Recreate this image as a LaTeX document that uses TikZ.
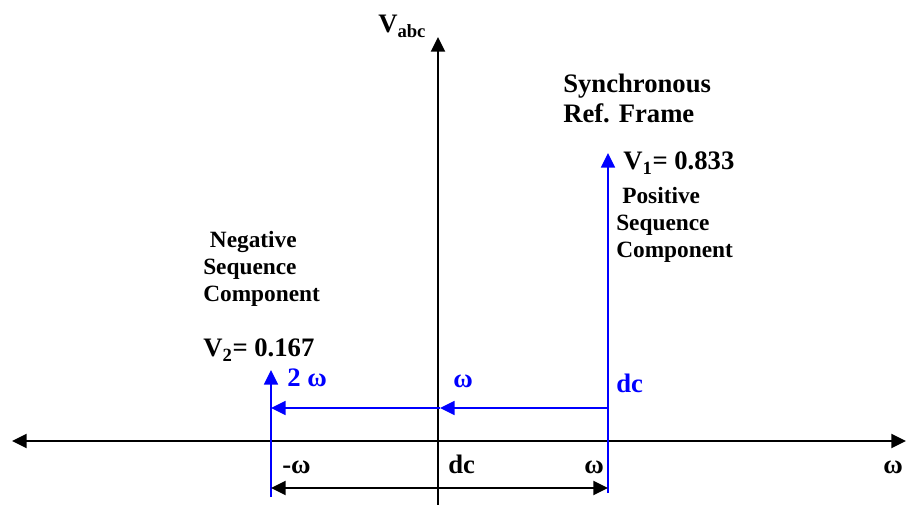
\documentclass[tikz,border=0pt]{standalone}
\usepackage{fontspec}
\setmainfont{Liberation Serif}
\usetikzlibrary{arrows.meta}

\begin{document}
\begin{tikzpicture}[x=0.75pt, y=-0.75pt,
  >={Triangle[length=11pt, width=10.5pt]},
  every node/.style={inner sep=0pt, anchor=base west},
  big/.style={font=\fontsize{20}{22.5}\selectfont\bfseries},
  small/.style={font=\fontsize{17.5}{20.6}\selectfont\bfseries, align=left},
  axisline/.style={line width=1.6pt},
  bluearrow/.style={blue, line width=1.2pt}]
\useasboundingbox (0,0) rectangle (906,505);

% Frequency axis and voltage axis
\coordinate (origin) at (438,441);
\coordinate (wneg) at (12,441);
\coordinate (wpos) at (906,441);
\coordinate (vtop) at (438,37);
\coordinate (vbot) at (438,505);
\draw[axisline, <->] (wneg) -- (wpos);
\draw[axisline, ->] (vbot) -- (vtop);
\node[big] (vabc) at (378,33) {V\textsubscript{abc}};

% Positive and negative sequence components (blue)
\coordinate (p1top) at (608,153);
\coordinate (p1bot) at (608,493);
\coordinate (n2top) at (271,370);
\coordinate (n2bot) at (271,497);
\draw[bluearrow, ->] (p1bot) -- (p1top);
\draw[bluearrow, ->] (n2bot) -- (n2top);

% Frame shift arrows
\coordinate (sdc) at (608,408);
\coordinate (sw) at (440,408);
\coordinate (s2w) at (271,408);
\draw[bluearrow, ->] (sdc) -- (sw);
\draw[bluearrow, ->] (sw) -- (s2w);
\node[big, text=blue] (lbl2w) at (287,387) {2 ω};
\node[big, text=blue] (lblw) at (453,388) {ω};
\node[big, text=blue] (lbldc) at (616,393) {dc};

% Span between -w and w
\coordinate (dleft) at (271,488);
\coordinate (dright) at (608,488);
\draw[axisline, <->] (dleft) -- (dright);

% Tick labels on the frequency axis
\foreach \x/\t [count=\k] in {282/{-ω}, 448/{dc}, 584/{ω}, 883/{ω}} {
    \node[big] (tick\k) at (\x,474) {\t};
}

% Text blocks (base = last line)
\node[big, align=left] (sync) at (563,123) {Synchronous\\Ref. Frame};
\node[big] (v1) at (623,170) {V\textsubscript{1}= 0.833};
\node[small] (pos) at (616,258) {\hspace{4.5pt}Positive\\Sequence\\Component};
\node[small] (neg) at (203,302) {\hspace{5pt}Negative\\Sequence\\Component};
\node[big] (v2) at (203,357) {V\textsubscript{2}= 0.167};
\end{tikzpicture}
\end{document}
